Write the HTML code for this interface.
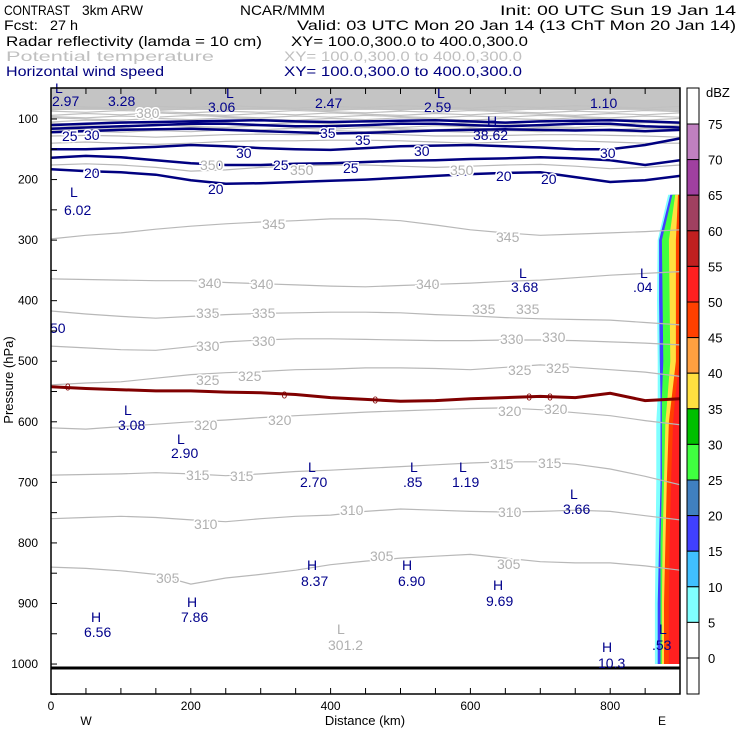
<!DOCTYPE html>
<html><head><meta charset="utf-8"><title>CONTRAST 3km ARW cross section</title>
<style>
html,body{margin:0;padding:0;background:#fff}
svg{display:block;font-family:"Liberation Sans",sans-serif}
</style></head>
<body>
<svg id="chart" width="740" height="740" viewBox="0 0 740 740" xmlns="http://www.w3.org/2000/svg">
<rect x="0" y="0" width="740" height="740" fill="#fff"/>
<g font-size="14" fill="#000">
<text x="4" y="15" textLength="66" lengthAdjust="spacingAndGlyphs">CONTRAST</text>
<text x="82" y="15" textLength="61" lengthAdjust="spacingAndGlyphs">3km ARW</text>
<text x="240" y="15" textLength="85" lengthAdjust="spacingAndGlyphs">NCAR/MMM</text>
<text x="500" y="15" textLength="236" lengthAdjust="spacingAndGlyphs">Init: 00 UTC Sun 19 Jan 14</text>
<text x="4" y="30" textLength="34" lengthAdjust="spacingAndGlyphs">Fcst:</text>
<text x="50" y="30" textLength="28" lengthAdjust="spacingAndGlyphs">27 h</text>
<text x="297" y="30" textLength="439" lengthAdjust="spacingAndGlyphs">Valid: 03 UTC Mon 20 Jan 14 (13 ChT Mon 20 Jan 14)</text>
<text x="6" y="46" textLength="256" lengthAdjust="spacingAndGlyphs">Radar reflectivity (lamda = 10 cm)</text>
<text x="291" y="46" textLength="237" lengthAdjust="spacingAndGlyphs">XY= 100.0,300.0 to 400.0,300.0</text>
<text x="6" y="61" fill="#c0c0c0" textLength="208" lengthAdjust="spacingAndGlyphs">Potential temperature</text>
<text x="284" y="61" fill="#c0c0c0" textLength="238" lengthAdjust="spacingAndGlyphs">XY= 100.0,300.0 to 400.0,300.0</text>
<text x="6" y="76" fill="#00007f" textLength="158" lengthAdjust="spacingAndGlyphs">Horizontal wind speed</text>
<text x="284" y="76" fill="#00007f" textLength="238" lengthAdjust="spacingAndGlyphs">XY= 100.0,300.0 to 400.0,300.0</text>
</g>
<defs><clipPath id="plotclip"><rect x="51" y="88" width="629" height="606"/></clipPath></defs>
<g id="plot" clip-path="url(#plotclip)"></g>
<g id="overlay"></g>
<g id="axes"></g>
<g id="cbar"></g>
</svg>
<script>
// ---- data ----
const gridKm = [0,50,100,150,200,250,300,350,400,450,500,550,600,650,700,750,800,850,900];
const thetaLevels = [345,340,335,330,325,320,315,310,305];
const theta345 = [298,292,288,282,277,273,270,268,265,265,268,275,283,288,292,290,288,286,283];
const theta340 = [364,365,366,367,367,370,372,374,376,377,375,373,371,368,366,362,358,355,352];
const theta335 = [417,422,426,429,426,423,421,420,419,419,420,423,425,428,430,431,432,436,440];
const theta330 = [475,478,481,482,476,468,465,463,463,464,465,466,466,465,465,466,468,470,473];
const theta325 = [539,536,534,528,522,519,517,514,513,511,511,512,514,510,506,510,514,518,525];
const theta320 = [610,612,608,604,600,597,593,590,587,584,582,580,578,577,580,585,590,598,605];
const theta315 = [688,687,686,684,686,689,686,682,680,677,674,671,668,666,666,670,678,690,704];
const theta310 = [760,758,756,758,762,765,760,756,754,748,744,746,748,749,748,746,748,755,762];
const theta305 = [840,842,846,852,868,858,852,845,836,830,825,822,819,825,831,833,833,838,845];
const theta350 = [176,174,176,180,186,184,180,178,176,176,178,180,178,176,175,178,182,180,176];
const theta355 = [140,138,140,142,140,137,136,136,135,135,136,138,140,138,136,136,138,140,140];
const theta360 = [128,127,128,130,128,126,125,126,125,124,126,128,128,127,126,126,127,128,130];
const upperTheta = [80,84,88,92,96,100,104,108,112,116,120];
const freezing = [542,545,547,549,549,551,552,555,560,563,566,565,562,560,558,560,553,565,562];
const wind20 = [183,186,188,192,201,207,206,204,202,200,197,194,191,189,188,196,204,201,194];
const wind25 = [164,161,163,168,173,176,176,174,173,171,169,168,166,165,163,165,168,176,168];
const wind30 = [150,150,148,146,143,145,148,150,151,148,145,144,143,145,147,150,150,143,132];
const wind35 = [122,120,118,117,116,118,120,122,124,123,121,119,118,117,118,119,118,120,118];
const windTop1 = [110,108,106,105,104,103,102,104,105,104,103,102,104,106,104,103,102,104,106];
const windTop2 = [116,114,112,110,108,108,110,112,112,110,108,108,110,112,110,108,108,112,114];
const dbzPres = [225,300,400,500,560,600,700,800,900,1000];
const dbzEdge5  = [883,868,867,868,868,866,866,865,864,864];
const dbzEdge15 = [886,870,870,871,872,872,872,870,868,868];
const dbzEdge25 = [889,874,875,876,874,874,874,872,872,872];
const dbzEdge35 = [893,884,885,886,882,879,877,875,874,874];
const dbzEdge45 = [897,894,894,894,888,884,881,879,877,877];
const dbzEdge55 = [900,900,899,899,893,890,887,885,884,884];
const presTicks = [100,200,300,400,500,600,700,800,900,1000];
const distTicks = [0,200,400,600,800];
const cbarLevels = [75,70,65,60,55,50,45,40,35,30,25,20,15,10,5,0];
const cbarColors = ["#ffffff","#c080c0","#a040a0","#a04060","#c02020","#ff2020","#ff4000","#ffa040","#ffe040","#00c000","#40ff40","#4080c0","#4040ff","#40c0ff","#80ffff","#ffffff","#ffffff"];

// ---- scales ----
const X = km => 51 + km*0.699;
const Y = p => 119 + (p-100)*0.6056;
const NS="http://www.w3.org/2000/svg";
function mk(parent, tag, attrs){const e=document.createElementNS(NS,tag);for(const k in attrs)e.setAttribute(k,attrs[k]);parent.appendChild(e);return e;}
const plot=document.getElementById('plot'), ov=document.getElementById('overlay'), axes=document.getElementById('axes'), cbar=document.getElementById('cbar');
function linePath(vals){return vals.map((p,i)=>(i?'L':'M')+X(gridKm[i]).toFixed(1)+' '+Y(p).toFixed(1)).join(' ');}

let band=mk(plot,'rect',{x:51,y:Y(30),width:629,height:Y(85)-Y(30),fill:'#c4c4c4'});


upperTheta.forEach((p,j)=>{
  const vals=gridKm.map((k,i)=>p+((i*7+j*3)%5)-2);
  const e=mk(plot,'path',{d:linePath(vals),fill:'none',stroke:'#c0c0c0','stroke-width':1.2});
  
  
});
const edges=[dbzEdge5,dbzEdge15,dbzEdge25,dbzEdge35,dbzEdge45,dbzEdge55];
const edgeColors=["#80ffff","#4040ff","#40ff40","#ffe040","#ff4000","#ff2020"];
edges.forEach((ed,j)=>{
  let d=ed.map((k,i)=>(i?'L':'M')+X(k).toFixed(1)+' '+Y(dbzPres[i]).toFixed(1)).join(' ');
  d+=' L'+X(900)+' '+Y(1000)+' L'+X(900)+' '+Y(dbzPres[0])+' Z';
  const e=mk(plot,'path',{d:d,fill:edgeColors[j]});
  
  
});
const thetaSets=[theta345,theta340,theta335,theta330,theta325,theta320,theta315,theta310,theta305,theta350,theta355,theta360];
thetaSets.forEach((v,j)=>{
  const e=mk(plot,'path',{d:linePath(v),fill:'none',stroke:'#b8b8b8','stroke-width':1.2});
  
  
});
let fz=mk(plot,'path',{d:linePath(freezing),fill:'none',stroke:'#800000','stroke-width':3});


[windTop1,windTop2,wind35,wind30,wind25,wind20].forEach(v=>{
  const e=mk(plot,'path',{d:linePath(v),fill:'none',stroke:'#000080','stroke-width':2.5});
  
  
});
let gl=mk(plot,'line',{x1:51,x2:680,y1:668,y2:668,stroke:'#000','stroke-width':3});



function lab(x,y,t,col,name,size){const e=mk(ov,'text',{x:x,y:y,fill:col,'font-size':size||14});e.textContent=t;
  
  return e;}
function clab(x,y,t,col,name){const e=lab(x,y,t,col,name,14);e.setAttribute('paint-order','stroke');e.setAttribute('stroke','#fff');e.setAttribute('stroke-width','3');}
const G='#b0b0b0', B='#00008b';
[[262,229,'345'],[496,242,'345'],[198,288,'340'],[250,289,'340'],[416,289,'340'],[196,318,'335'],[252,318,'335'],[472,314,'335'],[516,314,'335'],[196,351,'330'],[252,346,'330'],[500,344,'330'],[542,342,'330'],[196,385,'325'],[238,381,'325'],[508,375,'325'],[546,373,'325'],[194,430,'320'],[268,425,'320'],[498,416,'320'],[544,414,'320'],[186,480,'315'],[230,481,'315'],[490,469,'315'],[538,468,'315'],[194,529,'310'],[340,515,'310'],[498,517,'310'],[156,583,'305'],[370,561,'305'],[497,569,'305'],[136,118,'380'],[200,170,'350'],[290,175,'350'],[450,175,'350']].forEach(a=>clab(a[0],a[1],a[2],G,'theta-label'));
[[62,141,'25'],[84,140,'30'],[320,138,'35'],[355,145,'35'],[236,158,'30'],[414,156,'30'],[600,158,'30'],[273,170,'25'],[343,173,'25'],[84,178,'20'],[208,194,'20'],[496,181,'20'],[541,184,'20']].forEach(a=>clab(a[0],a[1],a[2],B,'wind-label'));
[20,330,460,680,710].forEach(k=>{const i=Math.round(k/50);const e=lab(X(k),Y(freezing[i])+4,'0','#800000','freezing-label',10);});
[[52,106,'2.97'],[108,106,'3.28'],[208,112,'3.06'],[315,108,'2.47'],[424,112,'2.59'],[590,108,'1.10'],[473,140,'38.62'],[64,215,'6.02'],[511,292,'3.68'],[633,292,'.04'],[50,333,'50'],[118,430,'3.08'],[171,458,'2.90'],[300,487,'2.70'],[403,487,'.85'],[452,487,'1.19'],[563,514,'3.66'],[301,586,'8.37'],[398,586,'6.90'],[486,606,'9.69'],[84,637,'6.56'],[181,622,'7.86'],[598,668,'10.3'],[652,650,'.53']].forEach(a=>lab(a[0],a[1],a[2],B,'extremum-value'));
[[55,93,'L'],[226,98,'L'],[437,98,'L'],[487,126,'H'],[70,197,'L'],[519,278,'L'],[640,278,'L'],[124,415,'L'],[177,444,'L'],[308,472,'L'],[410,472,'L'],[459,472,'L'],[570,499,'L'],[307,570,'H'],[402,570,'H'],[493,590,'H'],[91,622,'H'],[187,607,'H'],[602,652,'H'],[659,634,'L']].forEach(a=>lab(a[0],a[1],a[2],B,'extremum-marker'));
lab(337,634,'L',G,'extremum-marker');
lab(328,650,'301.2',G,'extremum-value');

let fr=mk(axes,'rect',{x:51,y:88,width:629,height:606,fill:'none',stroke:'#000','stroke-width':1.5});


for(let p=100;p<=1050;p+=50){const y=Y(p);const l=mk(axes,'line',{x1:51,x2:57,y1:y,y2:y,stroke:'#000'});
  
  }
presTicks.forEach(p=>{const t=mk(axes,'text',{x:38,y:Y(p)+4,'font-size':12,'text-anchor':'end'});t.textContent=p;
  
  });
for(let k=50;k<900;k+=50){const x=X(k);const a=mk(axes,'line',{x1:x,x2:x,y1:694,y2:688,stroke:'#000'});
  
  
  const b=mk(axes,'line',{x1:x,x2:x,y1:88,y2:94,stroke:'#000'});
  
  }
distTicks.forEach(k=>{const t=mk(axes,'text',{x:X(k),y:710,'font-size':12,'text-anchor':'middle'});t.textContent=k;
  
  });
let yt=mk(axes,'text',{x:0,y:0,'font-size':13,'text-anchor':'middle',transform:'translate(13,380) rotate(-90)'});yt.textContent='Pressure (hPa)';


let xt=mk(axes,'text',{x:365,y:725,'font-size':13,'text-anchor':'middle'});xt.textContent='Distance (km)';


let w=mk(axes,'text',{x:86,y:725,'font-size':12,'text-anchor':'middle'});w.textContent='W';


let ee=mk(axes,'text',{x:662,y:725,'font-size':12,'text-anchor':'middle'});ee.textContent='E';



const CB = v => 124 + (75-v)*35.6/5;
const bounds=[88].concat(cbarLevels.map(CB)).concat([694]);
for(let i=0;i<bounds.length-1;i++){
  const r=mk(cbar,'rect',{x:687,y:bounds[i],width:12,height:bounds[i+1]-bounds[i],fill:cbarColors[i],stroke:'#000','stroke-width':1});
  
  
}
cbarLevels.forEach(v=>{const t=mk(cbar,'text',{x:708,y:CB(v)+5,'font-size':13});t.textContent=v;
  
  });
let u=mk(cbar,'text',{x:706,y:97,'font-size':13});u.textContent='dBZ';


</script>
</body></html>
